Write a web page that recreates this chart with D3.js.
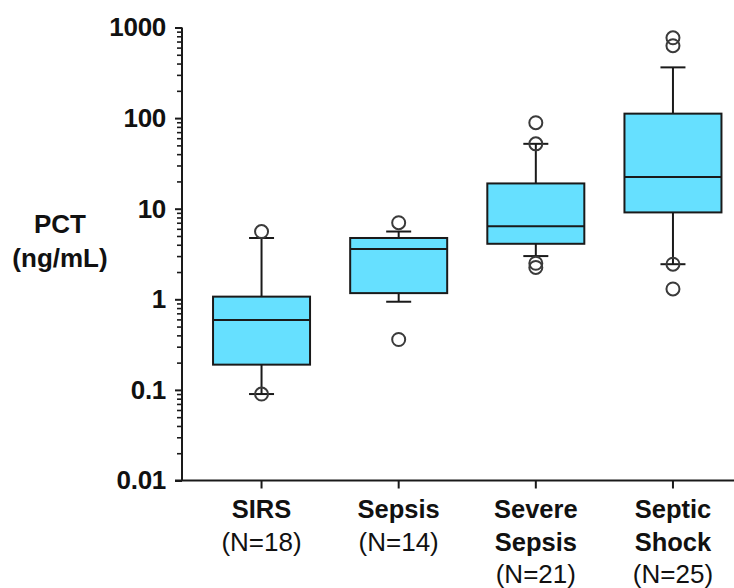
<!DOCTYPE html>
<html>
<head>
<meta charset="utf-8">
<script src="https://cdn.jsdelivr.net/npm/d3@7"></script>
<style>
  html, body { margin: 0; padding: 0; background: #fff; }
  svg { display: block; font-family: "Liberation Sans", Arial, sans-serif; }
</style>
</head>
<body>
<svg id="chart" width="734" height="588"></svg>
<script>
// Groups and sample sizes
const categories = ["SIRS", "Sepsis", "Severe Sepsis", "Septic Shock"];
const groupLines = [["SIRS"], ["Sepsis"], ["Severe", "Sepsis"], ["Septic", "Shock"]];
const sampleSizes = [18, 14, 21, 25];

// Box-plot summaries (PCT, ng/mL)
const whiskerLow  = [0.09, 0.94, 3.0, 2.44];
const q1          = [0.19, 1.17, 4.1, 9.1];
const median      = [0.59, 3.6, 6.4, 22.4];
const q3          = [1.07, 4.75, 19, 112];
const whiskerHigh = [4.75, 5.6, 52, 363];
const outliers = [
  [5.6, 0.09],
  [7.0, 0.36],
  [89, 52, 2.5, 2.25],
  [770, 630, 2.44, 1.3]
];

// Axis ticks
const majorTicks = [0.01, 0.1, 1, 10, 100, 1000];
const tickLabels = ["0.01", "0.1", "1", "10", "100", "1000"];

const svg = d3.select("#chart");
const W = 734;
const axisX = 182, axisTop = 27.5, axisBottom = 480.5;

const y = d3.scaleLog().domain([0.01, 1000]).range([axisBottom, axisTop]);
const x = d3.scalePoint().domain(categories).range([axisX, 752.5]).padding(0.58);
const boxW = 97;

// minor ticks 2..9 in each decade
const minorTicks = [];
majorTicks.slice(0, -1).forEach(d => { for (let k = 2; k <= 9; k++) minorTicks.push(d * k); });

const ink = "#1a1a1a";

// Y axis: major ticks with labels
const yMajor = d3.axisLeft(y).tickValues(majorTicks)
  .tickFormat((d, i) => tickLabels[i]).tickSize(7).tickPadding(9);
const gMaj = svg.append("g").attr("transform", `translate(${axisX},0)`).call(yMajor);
gMaj.select(".domain").remove();
gMaj.selectAll("line").attr("stroke", ink).attr("stroke-width", 2);
gMaj.selectAll("text").attr("fill", "#111").attr("font-size", 26).attr("font-weight", "bold")
  .attr("letter-spacing", -0.3).attr("font-family", "Liberation Sans, Arial, sans-serif");

// Y axis: minor ticks
const yMinor = d3.axisLeft(y).tickValues(minorTicks).tickFormat("").tickSize(5);
const gMin = svg.append("g").attr("transform", `translate(${axisX},0)`).call(yMinor);
gMin.select(".domain").remove();
gMin.selectAll("line").attr("stroke", ink).attr("stroke-width", 1.6);

// Axis lines
svg.append("line").attr("x1", axisX).attr("x2", axisX).attr("y1", axisTop).attr("y2", axisBottom)
  .attr("stroke", ink).attr("stroke-width", 2);
svg.append("line").attr("x1", axisX - 7).attr("x2", W).attr("y1", axisBottom).attr("y2", axisBottom)
  .attr("stroke", ink).attr("stroke-width", 2);

// X axis category ticks
svg.append("g").selectAll("line").data(categories).join("line")
  .attr("x1", d => x(d)).attr("x2", d => x(d))
  .attr("y1", axisBottom).attr("y2", axisBottom + 8)
  .attr("stroke", ink).attr("stroke-width", 2);

// Category labels: bold group name, regular sample size
const lab = svg.append("g").selectAll("text").data(categories).join("text")
  .attr("text-anchor", "middle")
  .attr("x", d => x(d)).attr("y", 518)
  .attr("fill", "#111");
lab.each(function(d, i) {
  const t = d3.select(this);
  groupLines[i].forEach((line, j) => {
    t.append("tspan").attr("x", x(d)).attr("dy", j === 0 ? 0 : 32.5)
      .attr("font-weight", "bold").attr("font-size", 25.5).text(line);
  });
  t.append("tspan").attr("x", x(d)).attr("dy", 32.5)
    .attr("font-size", 26).text(`(N=${sampleSizes[i]})`);
});

// Y axis title
const title = svg.append("text").attr("text-anchor", "middle").attr("fill", "#111")
  .attr("font-weight", "bold").attr("font-size", 26);
title.append("tspan").attr("x", 60).attr("y", 233).text("PCT");
title.append("tspan").attr("x", 60).attr("y", 267).text("(ng/mL)");

// Boxes
const boxes = svg.append("g").selectAll("g").data(categories).join("g");
boxes.each(function(d, i) {
  const g = d3.select(this);
  const cx = x(d);
  // whiskers
  g.append("line").attr("x1", cx).attr("x2", cx).attr("y1", y(q3[i])).attr("y2", y(whiskerHigh[i]))
    .attr("stroke", ink).attr("stroke-width", 2);
  g.append("line").attr("x1", cx).attr("x2", cx).attr("y1", y(q1[i])).attr("y2", y(whiskerLow[i]))
    .attr("stroke", ink).attr("stroke-width", 2);
  [whiskerHigh[i], whiskerLow[i]].forEach(v => {
    g.append("line").attr("x1", cx - 12.5).attr("x2", cx + 12.5).attr("y1", y(v)).attr("y2", y(v))
      .attr("stroke", ink).attr("stroke-width", 2);
  });
  // box
  g.append("rect").attr("x", cx - boxW / 2).attr("width", boxW)
    .attr("y", y(q3[i])).attr("height", y(q1[i]) - y(q3[i]))
    .attr("fill", "#66e0ff").attr("stroke", ink).attr("stroke-width", 2);
  // median
  g.append("line").attr("x1", cx - boxW / 2).attr("x2", cx + boxW / 2)
    .attr("y1", y(median[i])).attr("y2", y(median[i]))
    .attr("stroke", ink).attr("stroke-width", 2);
  // outliers
  g.selectAll("circle").data(outliers[i]).join("circle")
    .attr("cx", cx).attr("cy", v => y(v)).attr("r", 6.5)
    .attr("fill", "none").attr("stroke", "#3a3a3a").attr("stroke-width", 2);
});
</script>
</body>
</html>
